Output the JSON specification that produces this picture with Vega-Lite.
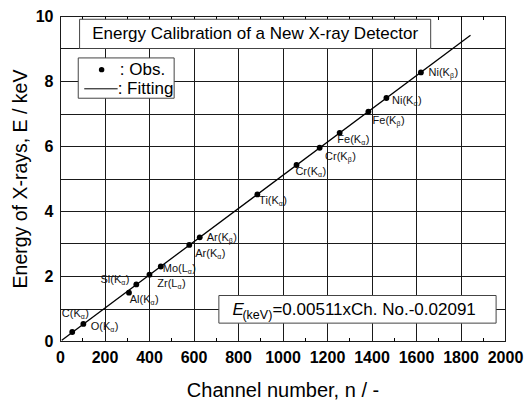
{
  "$schema": "https://vega.github.io/schema/vega-lite/v6.json",
  "width": 445,
  "height": 325,
  "autosize": "none",
  "padding": {"left": 60, "top": 16, "right": 22, "bottom": 62},
  "background": "white",
  "config": {
    "font": "Liberation Sans",
    "view": {"stroke": "black", "strokeWidth": 1},
    "text": {"font": "Liberation Sans", "color": "#111"}
  },
  "datasets": {
    "obs": [
      {"ch": 55, "E": 0.277, "base": "C(K", "sub": "α", "side": "a"},
      {"ch": 105, "E": 0.525, "base": "O(K", "sub": "α", "side": "rb"},
      {"ch": 310, "E": 1.487, "base": "Al(K", "sub": "α", "side": "bn"},
      {"ch": 343, "E": 1.74, "base": "Si(K", "sub": "α", "side": "l"},
      {"ch": 402, "E": 2.042, "base": "Zr(L", "sub": "α", "side": "b"},
      {"ch": 453, "E": 2.293, "base": "Mo(L", "sub": "α", "side": "rb"},
      {"ch": 581, "E": 2.957, "base": "Ar(K", "sub": "α", "side": "b"},
      {"ch": 628, "E": 3.19, "base": "Ar(K", "sub": "β", "side": "r"},
      {"ch": 887, "E": 4.511, "base": "Ti(K", "sub": "α", "side": "bn"},
      {"ch": 1063, "E": 5.415, "base": "Cr(K", "sub": "α", "side": "bn"},
      {"ch": 1167, "E": 5.947, "base": "Cr(K", "sub": "β", "side": "b"},
      {"ch": 1257, "E": 6.404, "base": "Fe(K", "sub": "α", "side": "bn"},
      {"ch": 1386, "E": 7.058, "base": "Fe(K", "sub": "β", "side": "b"},
      {"ch": 1467, "E": 7.478, "base": "Ni(K", "sub": "α", "side": "rb"},
      {"ch": 1622, "E": 8.265, "base": "Ni(K", "sub": "β", "side": "r"}
    ],
    "fit": [
      {"ch": 8, "E": 0.02},
      {"ch": 1845, "E": 9.407}
    ],
    "one": [{}]
  },
  "layer": [
    {
      "data": {"name": "obs"},
      "mark": {"type": "point", "filled": true, "color": "black", "size": 34, "opacity": 1},
      "encoding": {
        "x": {
          "field": "ch", "type": "quantitative",
          "scale": {"domain": [0, 2000], "nice": false},
          "axis": {
            "orient": "bottom",
            "values": [0, 200, 400, 600, 800, 1000, 1200, 1400, 1600, 1800, 2000],
            "format": "d",
            "grid": true, "gridColor": "#1a1a1a", "gridWidth": 1, "gridOpacity": 1,
            "ticks": false, "domain": false,
            "labelFont": "Liberation Sans", "labelFontWeight": "bold", "labelFontSize": 16,
            "labelColor": "black", "labelPadding": 8, "labelFlush": false, "labelOverlap": false,
            "title": "Channel number, n / -",
            "titleFont": "Liberation Sans", "titleFontSize": 20, "titleFontWeight": "normal",
            "titleColor": "black", "titlePadding": 15
          }
        },
        "y": {
          "field": "E", "type": "quantitative",
          "scale": {"domain": [0, 10], "nice": false},
          "axis": {
            "orient": "left",
            "values": [0, 1, 2, 3, 4, 5, 6, 7, 8, 9, 10],
            "labelExpr": "datum.value % 2 === 0 ? datum.label : ''",
            "grid": true, "gridColor": "#1a1a1a", "gridWidth": 1, "gridOpacity": 1,
            "ticks": false, "domain": false,
            "labelFont": "Liberation Sans", "labelFontWeight": "bold", "labelFontSize": 16,
            "labelColor": "black", "labelPadding": 7, "labelFlush": false, "labelOverlap": false,
            "title": "Energy of X-rays, E / keV",
            "titleFont": "Liberation Sans", "titleFontSize": 19.5, "titleFontWeight": "normal",
            "titleColor": "black", "titlePadding": 5
          }
        }
      }
    },
    {
      "data": {"name": "fit"},
      "mark": {"type": "line", "color": "black", "strokeWidth": 1.3},
      "encoding": {
        "x": {
          "field": "ch", "type": "quantitative",
          "scale": {"domain": [0, 2000], "nice": false},
          "axis": {
            "orient": "top",
            "values": [100, 200, 300, 400, 500, 600, 700, 800, 900, 1000, 1100, 1200, 1300, 1400, 1500, 1600, 1700, 1800, 1900],
            "labels": false, "grid": false, "domain": false,
            "ticks": true, "tickSize": -3.5, "tickColor": "black", "tickWidth": 1,
            "title": null
          }
        },
        "y": {"field": "E", "type": "quantitative", "scale": {"domain": [0, 10], "nice": false}, "axis": null}
      }
    },
    {
      "data": {"name": "obs"},
      "transform": [{"filter": "datum.side === 'r'"}],
      "encoding": {
        "x": {
          "field": "ch", "type": "quantitative",
          "axis": {
            "orient": "bottom",
            "values": [100, 300, 500, 700, 900, 1100, 1300, 1500, 1700, 1900],
            "labels": false, "grid": false, "domain": false,
            "ticks": true, "tickSize": -3.5, "tickColor": "black", "tickWidth": 1,
            "title": null
          }
        },
        "y": {"field": "E", "type": "quantitative", "axis": null}
      },
      "layer": [
        {"mark": {"type": "text", "align": "right", "baseline": "middle", "dx": 29, "dy": 1, "fontSize": 11}, "encoding": {"text": {"field": "base"}}},
        {"mark": {"type": "text", "align": "left", "baseline": "middle", "dx": 29, "dy": 4, "fontSize": 7}, "encoding": {"text": {"field": "sub"}}},
        {"mark": {"type": "text", "align": "left", "baseline": "middle", "dx": 33.5, "dy": 1, "fontSize": 11, "text": ")"}}
      ]
    },
    {
      "data": {"name": "obs"},
      "transform": [{"filter": "datum.side === 'rb'"}],
      "encoding": {
        "x": {"field": "ch", "type": "quantitative", "axis": null},
        "y": {"field": "E", "type": "quantitative", "axis": null}
      },
      "layer": [
        {"mark": {"type": "text", "align": "right", "baseline": "middle", "dx": 27, "dy": 3, "fontSize": 11}, "encoding": {"text": {"field": "base"}}},
        {"mark": {"type": "text", "align": "left", "baseline": "middle", "dx": 27, "dy": 6, "fontSize": 7}, "encoding": {"text": {"field": "sub"}}},
        {"mark": {"type": "text", "align": "left", "baseline": "middle", "dx": 31.5, "dy": 3, "fontSize": 11, "text": ")"}}
      ]
    },
    {
      "data": {"name": "obs"},
      "transform": [{"filter": "datum.side === 'b'"}],
      "encoding": {
        "x": {"field": "ch", "type": "quantitative", "axis": null},
        "y": {"field": "E", "type": "quantitative", "axis": null}
      },
      "layer": [
        {"mark": {"type": "text", "align": "right", "baseline": "middle", "dx": 28, "dy": 9, "fontSize": 11}, "encoding": {"text": {"field": "base"}}},
        {"mark": {"type": "text", "align": "left", "baseline": "middle", "dx": 28, "dy": 12, "fontSize": 7}, "encoding": {"text": {"field": "sub"}}},
        {"mark": {"type": "text", "align": "left", "baseline": "middle", "dx": 32.5, "dy": 9, "fontSize": 11, "text": ")"}}
      ]
    },
    {
      "data": {"name": "obs"},
      "transform": [{"filter": "datum.side === 'bn'"}],
      "encoding": {
        "x": {"field": "ch", "type": "quantitative", "axis": null},
        "y": {"field": "E", "type": "quantitative", "axis": null}
      },
      "layer": [
        {"mark": {"type": "text", "align": "right", "baseline": "middle", "dx": 21.5, "dy": 7, "fontSize": 11}, "encoding": {"text": {"field": "base"}}},
        {"mark": {"type": "text", "align": "left", "baseline": "middle", "dx": 21.5, "dy": 10, "fontSize": 7}, "encoding": {"text": {"field": "sub"}}},
        {"mark": {"type": "text", "align": "left", "baseline": "middle", "dx": 26, "dy": 7, "fontSize": 11, "text": ")"}}
      ]
    },
    {
      "data": {"name": "obs"},
      "transform": [{"filter": "datum.side === 'l'"}],
      "encoding": {
        "x": {"field": "ch", "type": "quantitative", "axis": null},
        "y": {"field": "E", "type": "quantitative", "axis": null}
      },
      "layer": [
        {"mark": {"type": "text", "align": "right", "baseline": "middle", "dx": -15, "dy": -4, "fontSize": 11}, "encoding": {"text": {"field": "base"}}},
        {"mark": {"type": "text", "align": "left", "baseline": "middle", "dx": -15, "dy": -1, "fontSize": 7}, "encoding": {"text": {"field": "sub"}}},
        {"mark": {"type": "text", "align": "left", "baseline": "middle", "dx": -10.5, "dy": -4, "fontSize": 11, "text": ")"}}
      ]
    },
    {
      "data": {"name": "obs"},
      "transform": [{"filter": "datum.side === 'a'"}],
      "encoding": {
        "x": {"field": "ch", "type": "quantitative", "axis": null},
        "y": {"field": "E", "type": "quantitative", "axis": null}
      },
      "layer": [
        {"mark": {"type": "text", "align": "right", "baseline": "middle", "dx": 8.5, "dy": -18, "fontSize": 11}, "encoding": {"text": {"field": "base"}}},
        {"mark": {"type": "text", "align": "left", "baseline": "middle", "dx": 8.5, "dy": -15, "fontSize": 7}, "encoding": {"text": {"field": "sub"}}},
        {"mark": {"type": "text", "align": "left", "baseline": "middle", "dx": 13, "dy": -18, "fontSize": 11, "text": ")"}}
      ]
    },
    {
      "data": {"name": "one"},
      "mark": {"type": "rect", "fill": "white", "stroke": "#444", "strokeWidth": 1},
      "encoding": {
        "x": {"datum": 88, "type": "quantitative", "axis": null},
        "x2": {"datum": 1666},
        "y": {"datum": 9.0, "type": "quantitative", "axis": null},
        "y2": {"datum": 9.9}
      }
    },
    {
      "data": {"name": "one"},
      "mark": {"type": "text", "align": "center", "baseline": "middle", "fontSize": 17, "color": "black"},
      "encoding": {
        "x": {"datum": 877, "type": "quantitative", "axis": null},
        "y": {"datum": 9.45, "type": "quantitative", "axis": null},
        "text": {"value": "Energy Calibration of a New X-ray Detector"}
      }
    },
    {
      "data": {"name": "one"},
      "mark": {"type": "rect", "fill": "white", "stroke": "#444", "strokeWidth": 1},
      "encoding": {
        "x": {"datum": 82, "type": "quantitative", "axis": null},
        "x2": {"datum": 513},
        "y": {"datum": 7.47, "type": "quantitative", "axis": null},
        "y2": {"datum": 8.71}
      }
    },
    {
      "data": {"name": "one"},
      "mark": {"type": "point", "filled": true, "color": "black", "size": 30, "opacity": 1},
      "encoding": {
        "x": {"datum": 187, "type": "quantitative", "axis": null},
        "y": {"datum": 8.35, "type": "quantitative", "axis": null}
      }
    },
    {
      "data": {"name": "one"},
      "mark": {"type": "rule", "color": "black", "strokeWidth": 1},
      "encoding": {
        "x": {"datum": 109, "type": "quantitative", "axis": null},
        "x2": {"datum": 259},
        "y": {"datum": 7.76, "type": "quantitative", "axis": null}
      }
    },
    {
      "data": {"name": "one"},
      "mark": {"type": "text", "align": "left", "baseline": "middle", "fontSize": 17, "color": "black"},
      "encoding": {
        "x": {"datum": 269, "type": "quantitative", "axis": null},
        "y": {"datum": 8.35, "type": "quantitative", "axis": null},
        "text": {"value": ": Obs."}
      }
    },
    {
      "data": {"name": "one"},
      "mark": {"type": "text", "align": "left", "baseline": "middle", "fontSize": 17, "color": "black"},
      "encoding": {
        "x": {"datum": 259, "type": "quantitative", "axis": null},
        "y": {"datum": 7.76, "type": "quantitative", "axis": null},
        "text": {"value": ": Fitting"}
      }
    },
    {
      "data": {"name": "one"},
      "mark": {"type": "rect", "fill": "white", "stroke": "#444", "strokeWidth": 1},
      "encoding": {
        "x": {"datum": 714, "type": "quantitative", "axis": null},
        "x2": {"datum": 1960},
        "y": {"datum": 0.55, "type": "quantitative", "axis": null},
        "y2": {"datum": 1.4}
      }
    },
    {
      "data": {"name": "one"},
      "mark": {"type": "text", "align": "left", "baseline": "middle", "fontSize": 17, "fontStyle": "italic", "color": "black"},
      "encoding": {
        "x": {"datum": 775, "type": "quantitative", "axis": null},
        "y": {"datum": 0.96, "type": "quantitative", "axis": null},
        "text": {"value": "E"}
      }
    },
    {
      "data": {"name": "one"},
      "mark": {"type": "text", "align": "left", "baseline": "middle", "fontSize": 12.5, "dx": 10, "dy": 5, "color": "black"},
      "encoding": {
        "x": {"datum": 775, "type": "quantitative", "axis": null},
        "y": {"datum": 0.96, "type": "quantitative", "axis": null},
        "text": {"value": "(keV)"}
      }
    },
    {
      "data": {"name": "one"},
      "mark": {"type": "text", "align": "left", "baseline": "middle", "fontSize": 17, "dx": 40, "color": "black"},
      "encoding": {
        "x": {"datum": 775, "type": "quantitative", "axis": null},
        "y": {"datum": 0.96, "type": "quantitative", "axis": null},
        "text": {"value": "=0.00511xCh. No.-0.02091"}
      }
    }
  ],
  "resolve": {"axis": {"x": "independent", "y": "independent"}}
}
